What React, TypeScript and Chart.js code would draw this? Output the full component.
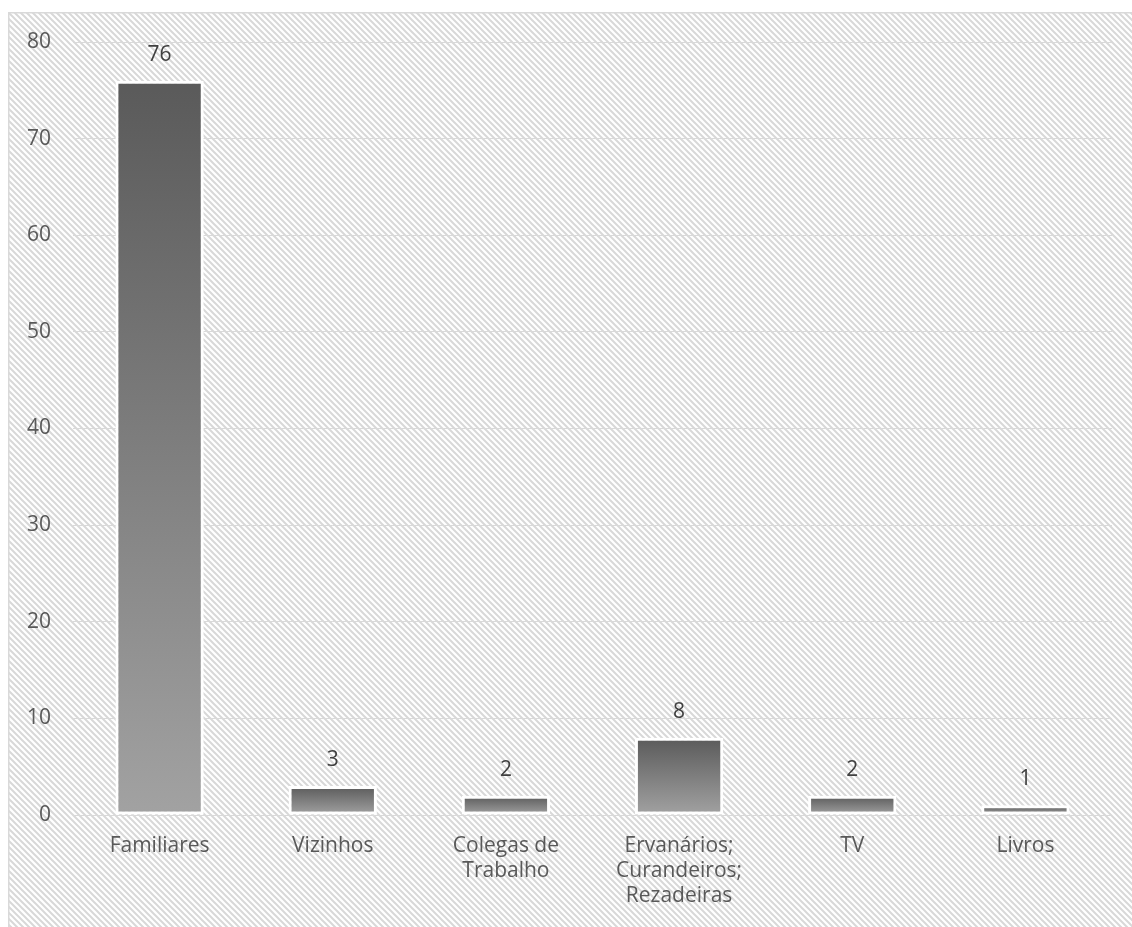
import React, { useEffect, useRef } from "react";
import { Chart, registerables } from "chart.js";

Chart.register(...registerables);

const categories: (string | string[])[] = [
  "Familiares",
  "Vizinhos",
  ["Colegas de", "Trabalho"],
  ["Ervanários;", "Curandeiros;", "Rezadeiras"],
  "TV",
  "Livros",
];
const values: number[] = [76, 3, 2, 8, 2, 1];
const yTicks: number[] = [0, 10, 20, 30, 40, 50, 60, 70, 80];

const FONT = "'Open Sans', 'Liberation Sans', sans-serif";
const TEXT = "#595959";

const backgroundPlugin = {
  id: "bgPattern",
  beforeDraw(chart: any) {
    const { ctx, width, height } = chart;
    const tile = document.createElement("canvas");
    tile.width = 6;
    tile.height = 6;
    const t = tile.getContext("2d")!;
    t.fillStyle = "#ffffff";
    t.fillRect(0, 0, 6, 6);
    t.strokeStyle = "#d8d8d8";
    t.lineWidth = 2;
    t.beginPath();
    t.moveTo(-1, -1);
    t.lineTo(7, 7);
    t.moveTo(-4, 2);
    t.lineTo(4, 10);
    t.moveTo(2, -4);
    t.lineTo(10, 4);
    t.stroke();
    const pat = ctx.createPattern(tile, "repeat");
    ctx.save();
    ctx.fillStyle = pat;
    ctx.fillRect(0, 0, width, height);
    ctx.strokeStyle = "#d9d9d9";
    ctx.lineWidth = 1.5;
    ctx.beginPath();
    ctx.moveTo(0.75, height + 5);
    ctx.lineTo(0.75, 0.75);
    ctx.lineTo(width + 5, 0.75);
    ctx.stroke();
    ctx.restore();
  },
};

const labelPlugin = {
  id: "valueLabels",
  afterDatasetsDraw(chart: any) {
    const { ctx } = chart;
    const meta = chart.getDatasetMeta(0);
    ctx.save();
    ctx.font = `21px ${FONT}`;
    ctx.fillStyle = "#404040";
    ctx.textAlign = "center";
    ctx.textBaseline = "middle";
    meta.data.forEach((bar: any, i: number) => {
      ctx.fillText(String(values[i]), bar.x, bar.y - 26);
    });
    ctx.restore();
  },
};

export default function App() {
  const ref = useRef<HTMLCanvasElement>(null);

  useEffect(() => {
    if (!ref.current) return;
    const chart = new Chart(ref.current, {
      type: "bar",
      data: {
        labels: categories,
        datasets: [
          {
            data: values,
            backgroundColor: (c: any) => {
              const ch = c.chart;
              const ys = ch.scales?.y;
              if (!ch.chartArea || !ys || c.raw == null) return "#808080";
              const top = ys.getPixelForValue(c.raw);
              const bottom = ys.getPixelForValue(0);
              const g = ch.ctx.createLinearGradient(0, top, 0, bottom);
              g.addColorStop(0, "#5a5a5a");
              g.addColorStop(1, "#a2a2a2");
              return g;
            },
            borderColor: "#ffffff",
            borderWidth: 3,
            borderSkipped: false,
            barPercentage: 0.51,
            categoryPercentage: 1,
          },
        ],
      },
      options: {
        animation: false,
        responsive: true,
        maintainAspectRatio: false,
        layout: { padding: { top: 30, right: 20, left: 0, bottom: 0 } },
        plugins: { legend: { display: false }, tooltip: { enabled: false } },
        scales: {
          x: {
            grid: { display: false, drawTicks: false },
            border: { display: false },
            ticks: {
              color: TEXT,
              font: { family: FONT, size: 21 },
              padding: 18,
              maxRotation: 0,
              autoSkip: false,
            },
            afterFit: (s: any) => {
              s.height = 112;
            },
          },
          y: {
            min: 0,
            max: 80,
            afterBuildTicks: (s: any) => {
              s.ticks = yTicks.map((v) => ({ value: v }));
            },
            grid: { color: "#d9d9d9", lineWidth: 1, drawTicks: false },
            border: { display: false },
            ticks: {
              color: TEXT,
              font: { family: FONT, size: 21 },
              padding: 22,
            },
            afterFit: (s: any) => {
              s.width = 65;
              s.paddingTop = 0;
              s.paddingBottom = 0;
            },
          },
        },
      },
      plugins: [backgroundPlugin, labelPlugin],
    });
    return () => chart.destroy();
  }, []);

  return (
    <div
      style={{
        position: "fixed",
        left: 8,
        top: 12,
        width: 1124,
        height: 915,
      }}
    >
      <canvas ref={ref} />
    </div>
  );
}
